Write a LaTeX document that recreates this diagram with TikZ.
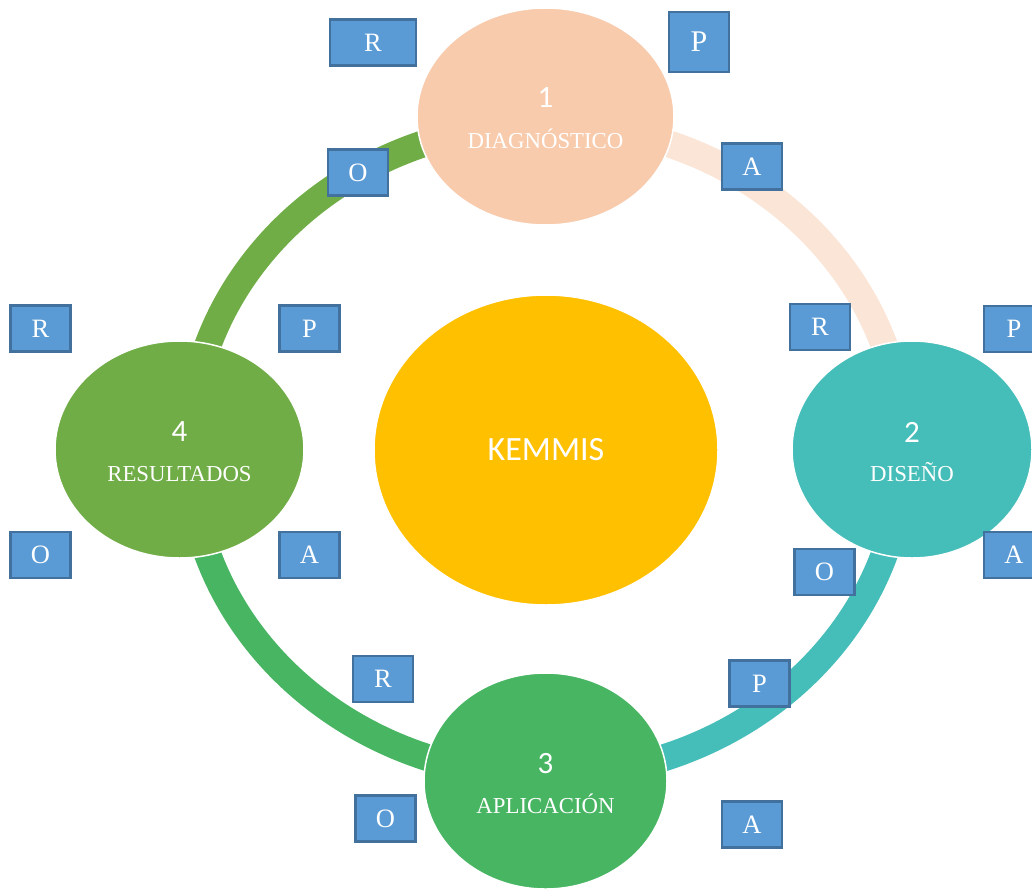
\documentclass[tikz,border=0pt]{standalone}
\usepackage{fontspec}
\setmainfont{Liberation Serif}
\newfontfamily\sansnum{Carlito}
\usetikzlibrary{shapes.geometric,positioning}
\definecolor{peach}{HTML}{F8CBAD}
\definecolor{peachlight}{HTML}{FBE5D6}
\definecolor{tealring}{HTML}{45BDB8}
\definecolor{greenapl}{HTML}{48B563}
\definecolor{greenres}{HTML}{70AD47}
\definecolor{gold}{HTML}{FFC000}
\definecolor{boxblue}{HTML}{5B9BD5}
\definecolor{boxedge}{HTML}{41719C}
\tikzset{
  stage/.style={ellipse, draw=white, line width=1.5pt, inner sep=0pt},
  letter/.style={rectangle, fill=boxblue, draw=boxedge, line width=2.5pt,
    minimum width=60pt, minimum height=46pt, inner sep=0pt, text=white,
    font=\fontsize{26.5}{30}\selectfont},
  ring/.style={line width=27pt},
  num/.style={anchor=base, text=white, font=\sansnum\fontsize{31}{36}\selectfont},
  word/.style={anchor=base, text=white, font=\fontsize{22.8}{26}\selectfont},
}

\begin{document}
\begin{tikzpicture}[x=1pt, y=-1pt]

  \useasboundingbox (0,0) rectangle (1032,888);
  \coordinate (hub) at (546,450);

  % ring, one quarter per stage (ends hidden below the stages)
  \draw[ring, peachlight] (hub) ++(270:357 and 326) arc[start angle=270, end angle=360, x radius=357, y radius=326]; % 1->2
  \draw[ring, tealring] (hub) ++(0:357 and 326) arc[start angle=0, end angle=90, x radius=357, y radius=326]; % 2->3
  \draw[ring, greenapl] (hub) ++(90:357 and 326) arc[start angle=90, end angle=180, x radius=357, y radius=326]; % 3->4
  \draw[ring, greenres] (hub) ++(180:357 and 326) arc[start angle=180, end angle=270, x radius=357, y radius=326]; % 4->1

  % centre
  \node[stage, fill=gold, minimum width=344pt, minimum height=310pt, text=white,
    font=\sansnum\fontsize{34}{40}\selectfont] (kemmis) at (hub) {KEMMIS};

  % stages
  \node[stage, fill=peach, minimum width=257pt, minimum height=217pt] (diag) at (545.5,116.5) {};
  \node[num] at ([yshift=8.5pt]diag.center) {1};
  \node[word] at ([yshift=-31.5pt]diag.center) {DIAGNÓSTICO};

  \node[stage, fill=tealring, minimum width=240pt, minimum height=217pt] (dise) at (912,449.5) {};
  \node[num] at ([yshift=7.5pt]dise.center) {2};
  \node[word] at ([yshift=-31.5pt]dise.center) {DISEÑO};

  \node[stage, fill=greenapl, minimum width=243pt, minimum height=216pt] (apli) at (545.5,781) {};
  \node[num] at ([yshift=8pt]apli.center) {3};
  \node[word] at ([yshift=-32pt]apli.center) {APLICACIÓN};

  \node[stage, fill=greenres, minimum width=249pt, minimum height=217pt] (resu) at (179.5,449.5) {};
  \node[num] at ([yshift=8pt]resu.center) {4};
  \node[word] at ([yshift=-31.5pt]resu.center) {RESULTADOS};

  % R P O A boxes round each stage
  \node[letter, minimum width=86pt] (r1) at (373,42.5) {R};
  \node[letter, minimum height=60pt, font=\fontsize{30}{34}\selectfont] (p1) at (699,42) {P};
  \node[letter] (o1) at (358,172.5) {O};
  \node[letter] (a1) at (752,166.5) {A};

  \node[letter] (r2) at (820,327) {R};
  \node[letter] (p2) at (1014,329) {P};
  \node[letter] (o2) at (824.5,572) {O};
  \node[letter] (a2) at (1014,555) {A};

  \node[letter] (r3) at (383,679) {R};
  \node[letter] (p3) at (759.5,683.5) {P};
  \node[letter] (o3) at (385.5,818.5) {O};
  \node[letter] (a3) at (752,824.5) {A};

  \node[letter] (r4) at (40.5,328.5) {R};
  \node[letter] (p4) at (309.5,328.5) {P};
  \node[letter] (o4) at (40.5,555) {O};
  \node[letter] (a4) at (309.5,555) {A};

\end{tikzpicture}
\end{document}
